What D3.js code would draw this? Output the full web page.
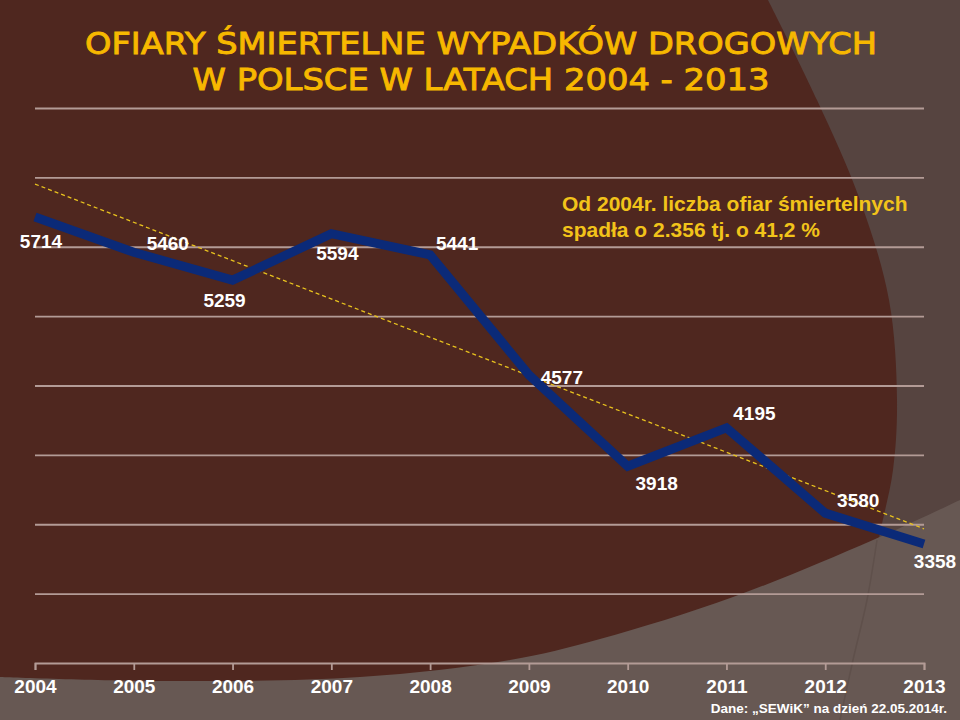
<!DOCTYPE html>
<html>
<head>
<meta charset="utf-8">
<script src="https://cdn.jsdelivr.net/npm/d3@7"></script>
<style>
  html, body { margin: 0; padding: 0; background: #4f271f; }
  svg { display: block; }
</style>
</head>
<body>
<svg id="chart" width="960" height="720"></svg>
<script>
// ---- data ----
const years = ["2004","2005","2006","2007","2008","2009","2010","2011","2012","2013"];
const fatalities = [5714, 5460, 5259, 5594, 5441, 4577, 3918, 4195, 3580, 3358];
const trendValues = [5952, 3467];          // linear trend at 2004 and 2013
const gridValues = [3000, 3500, 4000, 4500, 5000, 5500, 6000, 6500];
const yDomain = [2500, 6500];
const titleLines = ["OFIARY ŚMIERTELNE WYPADKÓW DROGOWYCH", "W POLSCE W LATACH 2004 - 2013"];
const noteLines = ["Od 2004r. liczba ofiar śmiertelnych", "spadła o 2.356 tj. o 41,2 %"];
const sourceText = "Dane: „SEWiK” na dzień 22.05.2014r.";

// ---- layout (label offsets relative to each point) ----
const labelDx = [6, 34, -8, 6, 27, 33, 29, 28, 33, 11];
const labelDy = [31, -2, 27, 26, -5, 9, 24, -8, -6, 24];

const svg = d3.select("#chart");
const W = 960, H = 720;

// ---- background shapes ----
svg.append("rect").attr("width", W).attr("height", H).attr("fill", "#564440");
const curve = d3.line().curve(d3.curveCatmullRom);
const ellipsePts = [[768,0],[817,100],[860,200],[889,300],[897,400],[893,470],[880,533],[867,600],[853,660],[840,720]];
svg.append("path")
  .attr("d", "M0,0 L" + curve(ellipsePts).slice(1) + " L0,720 Z")
  .attr("fill", "#4f271f");
const bottomPts = [[0,677],[160,681],[360,677],[510,660],[600,639],[733,597],[873,540],[960,500]];
svg.append("path")
  .attr("d", curve(bottomPts) + " L960,720 L0,720 Z")
  .attr("fill", "#675853");
svg.append("path")
  .attr("d", curve([[877,540],[867,600],[853,660],[840,720]]))
  .attr("fill", "none").attr("stroke", "#5f504b").attr("stroke-width", 1.5);

// ---- scales ----
const x = d3.scalePoint().domain(years).range([35, 924]);
const y = d3.scaleLinear().domain(yDomain).range([663, 108]);

// ---- gridlines ----
const grid = svg.append("g").attr("transform", "translate(35,0)")
  .call(d3.axisLeft(y).tickValues(gridValues).tickSize(-(924 - 35)).tickFormat(""));
grid.select(".domain").remove();
grid.selectAll(".tick line").attr("stroke", "#b39b96").attr("stroke-width", 1.8);

// ---- x axis ----
const xAxis = svg.append("g").attr("transform", "translate(0,663)")
  .call(d3.axisBottom(x).tickSize(7).tickSizeOuter(7).tickPadding(10));
xAxis.select(".domain").attr("stroke", "#b39b96").attr("stroke-width", 1.8);
xAxis.selectAll(".tick line").attr("stroke", "#b39b96").attr("stroke-width", 1.8);
xAxis.selectAll(".tick text")
  .attr("fill", "#ffffff")
  .attr("font-family", "'Liberation Sans', Arial, sans-serif")
  .attr("font-weight", "bold")
  .attr("font-size", 19)
  .attr("dy", "0.68em");

// ---- trend line ----
svg.append("line")
  .attr("x1", x(years[0])).attr("y1", y(trendValues[0]))
  .attr("x2", x(years[years.length - 1])).attr("y2", y(trendValues[1]))
  .attr("stroke", "#e8c21e").attr("stroke-width", 1.3)
  .attr("stroke-dasharray", "4,3");

// ---- data line ----
const line = d3.line().x((d, i) => x(years[i])).y(d => y(d));
svg.append("path")
  .datum(fatalities)
  .attr("d", line)
  .attr("fill", "none")
  .attr("stroke", "#0b2a78")
  .attr("stroke-width", 9)
  .attr("stroke-linejoin", "miter");

// ---- data labels ----
svg.append("g").selectAll("text")
  .data(fatalities)
  .join("text")
  .attr("x", (d, i) => x(years[i]) + labelDx[i])
  .attr("y", (d, i) => y(d) + labelDy[i])
  .attr("text-anchor", "middle")
  .attr("fill", "#ffffff")
  .attr("font-family", "'Liberation Sans', Arial, sans-serif")
  .attr("font-weight", "bold")
  .attr("font-size", 19)
  .text(d => d);

// ---- title ----
const titleWidths = [792, 577];
svg.append("g").selectAll("text")
  .data(titleLines)
  .join("text")
  .attr("x", 481)
  .attr("y", (d, i) => 54 + i * 36)
  .attr("text-anchor", "middle")
  .attr("fill", "#f7b800")
  .attr("stroke", "#f7b800")
  .attr("stroke-width", 0.9)
  .attr("font-family", "'Comic Sans MS', 'DejaVu Sans', sans-serif")
  .attr("font-size", 31)
  .attr("textLength", (d, i) => titleWidths[i])
  .attr("lengthAdjust", "spacingAndGlyphs")
  .text(d => d);

// ---- note ----
svg.append("g").selectAll("text")
  .data(noteLines)
  .join("text")
  .attr("x", 562)
  .attr("y", (d, i) => 211 + i * 26)
  .attr("fill", "#f2c31a")
  .attr("font-family", "'Liberation Sans', Arial, sans-serif")
  .attr("font-weight", "bold")
  .attr("font-size", 21)
  .text(d => d);

// ---- source ----
svg.append("text")
  .attr("x", 947).attr("y", 713)
  .attr("text-anchor", "end")
  .attr("fill", "#ffffff")
  .attr("font-family", "'Liberation Sans', Arial, sans-serif")
  .attr("font-weight", "bold")
  .attr("font-size", 13.5)
  .text(sourceText);
</script>
</body>
</html>
